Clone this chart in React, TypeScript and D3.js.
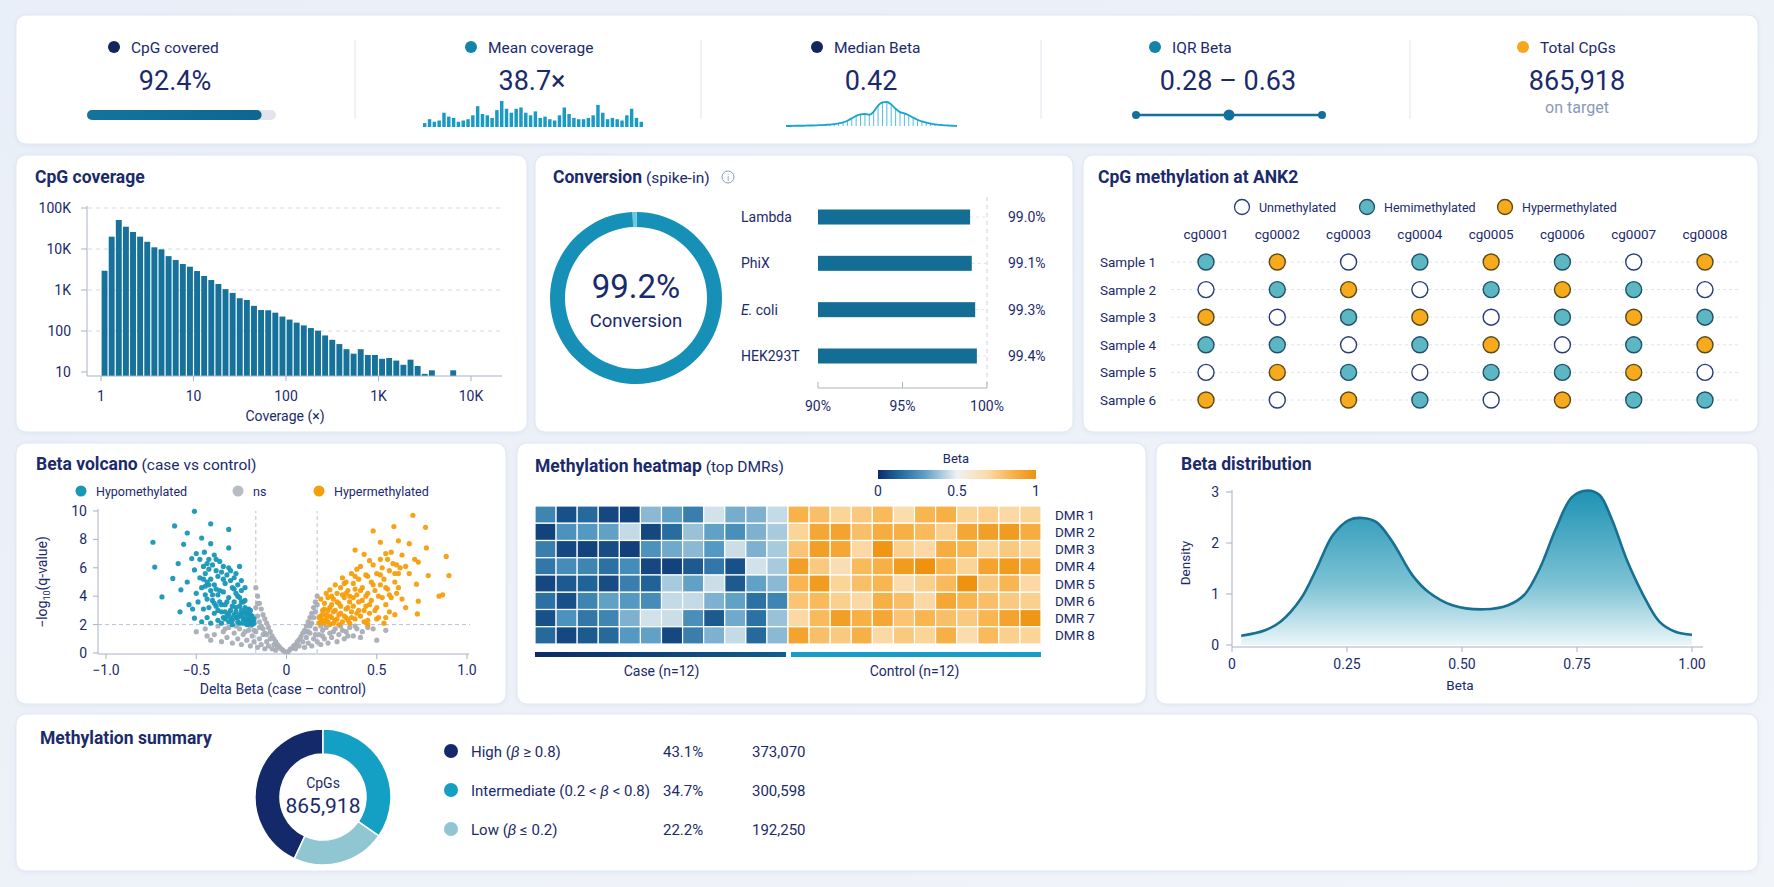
import React, { useEffect, useRef } from "react";
import * as d3 from "d3";

const W = 1774;
const H = 887;
const FONT = "Roboto, 'Noto Sans', 'DejaVu Sans', sans-serif";
const INK = "#1b2a6b";
const SOFT = "#8a98ba";
const AXIS = "#a7b1c8";
const GRID = "#d3dae6";

// KPI strip
const kpiLabels = ["CpG covered", "Mean coverage", "Median Beta", "IQR Beta", "Total CpGs"];
const kpiValues = ["92.4%", "38.7×", "0.42", "0.28 – 0.63", "865,918"];
const kpiDots = ["#13245f", "#1483a8", "#13245f", "#1483a8", "#f5a81c"];
const cpgCoveredPct = 92.4;
const iqrBeta = [0.28, 0.63];
const meanCoverageSpark = [0.15, 0.3, 0.2, 0.25, 0.55, 0.4, 0.35, 0.2, 0.25, 0.3, 0.45, 0.8, 0.5, 0.45, 0.35, 0.65, 1.0, 0.7, 0.55, 0.7, 0.75, 0.55, 0.45, 0.6, 0.35, 0.4, 0.3, 0.25, 0.45, 0.75, 0.5, 0.35, 0.3, 0.3, 0.35, 0.45, 0.85, 0.55, 0.3, 0.35, 0.3, 0.25, 0.45, 0.7, 0.35, 0.2];
const medianBetaSpark = [0, 0, 0.01, 0.01, 0.01, 0.02, 0.02, 0.03, 0.04, 0.05, 0.06, 0.08, 0.11, 0.15, 0.22, 0.32, 0.42, 0.48, 0.5, 0.47, 0.6, 0.85, 0.98, 1.0, 0.9, 0.72, 0.58, 0.53, 0.45, 0.35, 0.26, 0.19, 0.14, 0.1, 0.07, 0.05, 0.03, 0.02, 0.01, 0];

// CpG coverage histogram (13 log bins per decade, starting at 1x)
const BINS_PER_DECADE = 13;
const coverageCounts = [2950, 20000, 51000, 35000, 26000, 20000, 15000, 11000, 9800, 6700, 5400, 4300, 3700, 2900, 2200, 1750, 1400, 1050, 850, 630, 570, 410, 325, 320, 280, 225, 190, 160, 137, 118, 102, 78, 61, 48, 36, 28, 36, 26, 26, 21, 22, 19, 15, 20, 14, 9, 11, 0, 0, 11];
const covXTicks = [1, 10, 100, 1000, 10000];
const covXTickLabels = ["1", "10", "100", "1K", "10K"];
const covYTicks = [10, 100, 1000, 10000, 100000];
const covYTickLabels = ["10", "100", "1K", "10K", "100K"];

// Bisulfite conversion
const overallConversion = 99.2;
const spikeIns = ["Lambda", "PhiX", "E. coli", "HEK293T"];
const spikeInRates = [99.0, 99.1, 99.3, 99.4];
const convTicks = [90, 95, 100];

// CpG states at ANK2: 0 unmethylated, 1 hemimethylated, 2 hypermethylated
const cpgIds = ["cg0001", "cg0002", "cg0003", "cg0004", "cg0005", "cg0006", "cg0007", "cg0008"];
const samples = ["Sample 1", "Sample 2", "Sample 3", "Sample 4", "Sample 5", "Sample 6"];
const stateNames = ["Unmethylated", "Hemimethylated", "Hypermethylated"];
const cpgStates = [
  [1, 2, 0, 1, 2, 1, 0, 2],
  [0, 1, 2, 0, 1, 2, 1, 0],
  [2, 0, 1, 2, 0, 1, 2, 1],
  [1, 1, 0, 1, 2, 0, 1, 2],
  [0, 2, 1, 0, 1, 1, 2, 0],
  [2, 0, 2, 1, 0, 2, 1, 1],
];

// Volcano: [delta beta, -log10 q]
const hypoPoints = [
  [-0.51, 9.98], [-0.62, 8.95], [-0.42, 9.1], [-0.32, 8.7], [-0.55, 8.45], [-0.74, 7.8], [-0.47, 8.1], [-0.57, 7.65], [-0.42, 7.7], [-0.32, 7.4],
  [-0.73, 6.05], [-0.6, 6.3], [-0.69, 3.95], [-0.63, 5.25], [-0.585, 4.45], [-0.55, 5.0], [-0.54, 3.4], [-0.59, 2.9], [-0.51, 2.45], [-0.26, 6.1],
  [-0.23, 4.6], [-0.5, 7.0], [-0.455, 7.1], [-0.4, 6.9], [-0.525, 6.65], [-0.51, 5.85], [-0.44, 6.3], [-0.37, 6.45], [-0.32, 6.0],
  [-0.48, 6.6], [-0.46, 6.1], [-0.45, 5.6], [-0.43, 5.9], [-0.41, 6.2], [-0.39, 5.8], [-0.38, 5.4], [-0.36, 5.7], [-0.35, 5.2], [-0.34, 4.9],
  [-0.33, 5.5], [-0.31, 5.1], [-0.3, 4.6], [-0.29, 5.3], [-0.28, 4.2], [-0.27, 4.8], [-0.26, 3.9], [-0.25, 4.4], [-0.24, 3.6], [-0.23, 3.2],
  [-0.22, 2.8], [-0.21, 2.4], [-0.2, 2.2], [-0.19, 2.6], [-0.18, 2.1], [-0.47, 4.6], [-0.45, 4.1], [-0.44, 5.0], [-0.42, 4.4], [-0.41, 3.7],
  [-0.4, 4.8], [-0.39, 3.3], [-0.38, 4.1], [-0.37, 3.6], [-0.36, 2.9], [-0.35, 4.3], [-0.34, 3.4], [-0.33, 2.6], [-0.32, 3.9], [-0.31, 3.0],
  [-0.3, 2.3], [-0.29, 3.6], [-0.28, 2.9], [-0.27, 2.2], [-0.26, 3.3], [-0.25, 2.6], [-0.24, 2.1], [-0.23, 2.9], [-0.22, 2.3], [-0.21, 3.1],
  [-0.2, 2.7], [-0.19, 2.0], [-0.5, 4.2], [-0.49, 3.6], [-0.46, 3.1], [-0.44, 2.5], [-0.43, 3.2], [-0.4, 2.8], [-0.38, 2.3], [-0.36, 2.1],
  [-0.34, 2.4], [-0.32, 2.2], [-0.3, 2.0], [-0.28, 2.5], [-0.26, 2.1], [-0.24, 2.4], [-0.22, 2.0], [-0.2, 2.3], [-0.48, 5.3], [-0.43, 6.6],
  [-0.39, 6.6], [-0.35, 6.1], [-0.31, 5.8], [-0.28, 5.6], [-0.25, 5.1], [-0.52, 3.1], [-0.47, 2.2], [-0.42, 2.1],
  [-0.21, 2.05], [-0.2, 2.5], [-0.19, 2.3], [-0.18, 2.4], [-0.22, 2.6], [-0.23, 2.4], [-0.24, 2.8], [-0.25, 3.0], [-0.26, 2.7], [-0.27, 2.5],
  [-0.28, 3.2], [-0.29, 2.7], [-0.3, 3.3], [-0.31, 2.5], [-0.32, 2.8], [-0.33, 3.6], [-0.34, 2.9], [-0.35, 2.5], [-0.36, 3.4], [-0.37, 4.4],
  [-0.38, 3.0], [-0.39, 4.5], [-0.4, 3.5], [-0.41, 4.1], [-0.42, 5.2], [-0.43, 4.8], [-0.44, 3.8], [-0.45, 4.7], [-0.46, 5.2], [-0.29, 4.5],
  [-0.27, 4.0], [-0.25, 3.6], [-0.23, 3.7], [-0.21, 2.8], [-0.19, 2.4], [-0.2, 3.0],
];
const nsPoints = [
  [-0.17, 4.6], [-0.16, 4.0], [-0.15, 3.5], [-0.14, 3.1], [-0.13, 2.7], [-0.12, 2.4], [-0.11, 2.1], [-0.1, 1.8], [-0.09, 1.5], [-0.08, 1.2],
  [-0.07, 1.0], [-0.06, 0.8], [-0.05, 0.6], [-0.04, 0.45], [-0.03, 0.3], [-0.02, 0.2], [-0.01, 0.1], [0.01, 0.1], [0.02, 0.25], [0.03, 0.35],
  [0.04, 0.5], [0.05, 0.6], [0.06, 0.8], [0.07, 0.95], [0.08, 1.15], [0.09, 1.4], [0.1, 1.6], [0.11, 1.9], [0.12, 2.2], [0.13, 2.5],
  [0.14, 2.8], [0.15, 3.2], [0.16, 3.6], [0.17, 4.0],
  [-0.5, 1.5], [-0.45, 1.7], [-0.42, 0.9], [-0.4, 1.3], [-0.38, 1.9], [-0.36, 0.8], [-0.35, 1.5], [-0.33, 1.1], [-0.32, 1.8], [-0.3, 0.7],
  [-0.29, 1.4], [-0.27, 1.0], [-0.26, 1.7], [-0.25, 0.6], [-0.24, 1.3], [-0.22, 0.9], [-0.21, 1.6], [-0.2, 0.5], [-0.19, 1.2], [-0.18, 0.8],
  [-0.17, 1.5], [-0.16, 0.4], [-0.15, 1.0], [-0.14, 0.6], [-0.13, 1.3], [-0.12, 0.3], [-0.11, 0.8], [-0.1, 0.5], [-0.09, 1.0], [-0.08, 0.3],
  [-0.07, 0.6], [-0.06, 0.2], [-0.05, 0.4], [-0.16, 2.6], [-0.15, 2.2], [-0.14, 1.9], [-0.17, 3.2], [-0.16, 3.5], [-0.13, 1.7], [-0.12, 1.4],
  [0.05, 0.3], [0.07, 0.5], [0.09, 0.8], [0.1, 0.4], [0.11, 1.1], [0.12, 0.7], [0.13, 1.4], [0.14, 0.5], [0.15, 1.0], [0.16, 1.7],
  [0.17, 0.8], [0.18, 1.3], [0.19, 0.6], [0.2, 1.6], [0.21, 1.0], [0.22, 1.8], [0.23, 0.7], [0.24, 1.4], [0.25, 1.1], [0.27, 1.7],
  [0.28, 0.8], [0.29, 1.3], [0.3, 1.9], [0.32, 1.0], [0.33, 1.5], [0.35, 1.8], [0.37, 1.2], [0.39, 1.7], [0.42, 1.5], [0.45, 1.8],
  [0.5, 0.9], [0.55, 1.6], [0.14, 2.1], [0.15, 2.5], [0.16, 2.9], [0.17, 3.4], [0.13, 1.9], [0.12, 1.5],
  [-0.28, 1.9], [-0.23, 1.5], [-0.2, 1.9], [-0.18, 1.6], [-0.15, 1.8], [-0.11, 1.3], [-0.34, 1.7], [-0.44, 1.2], [0.19, 1.9], [0.26, 1.5],
  [0.31, 1.6], [0.34, 1.2], [0.38, 1.9], [0.41, 1.1], [0.48, 1.7], [0.2, 1.2], [0.16, 1.3], [0.11, 1.5],
];
const hyperPoints = [
  [0.7, 9.7], [0.595, 8.9], [0.77, 8.85], [0.48, 8.6], [0.62, 7.9], [0.52, 7.8], [0.68, 7.7], [0.775, 7.4], [0.885, 6.8], [0.9, 5.45],
  [0.785, 5.45], [0.72, 4.85], [0.73, 3.65], [0.725, 2.75], [0.845, 4.0], [0.865, 4.1], [0.71, 6.6], [0.73, 6.4], [0.38, 7.25], [0.43, 6.95],
  [0.31, 5.3], [0.24, 4.45], [0.58, 7.1], [0.56, 6.6], [0.64, 6.9], [0.66, 6.1], [0.68, 5.6], [0.62, 4.6], [0.6, 2.7], [0.66, 3.2],
  [0.55, 2.5], [0.45, 2.3],
  [0.18, 2.1], [0.19, 2.6], [0.2, 3.0], [0.2, 2.3], [0.21, 3.5], [0.22, 2.7], [0.23, 3.9], [0.23, 2.2], [0.24, 3.2], [0.25, 2.5],
  [0.26, 3.8], [0.26, 2.1], [0.27, 3.0], [0.28, 4.2], [0.28, 2.4], [0.29, 3.5], [0.3, 2.8], [0.3, 4.6], [0.31, 2.2], [0.32, 3.9],
  [0.33, 3.1], [0.33, 2.5], [0.34, 4.4], [0.35, 3.6], [0.35, 2.1], [0.36, 2.9], [0.37, 4.9], [0.37, 3.3], [0.38, 2.4], [0.39, 4.1],
  [0.4, 3.0], [0.4, 5.2], [0.41, 2.6], [0.42, 3.7], [0.42, 4.6], [0.43, 2.2], [0.44, 5.5], [0.44, 3.3], [0.45, 4.2], [0.46, 2.8],
  [0.47, 5.0], [0.47, 3.7], [0.48, 6.2], [0.49, 4.4], [0.5, 3.2], [0.5, 5.6], [0.51, 2.5], [0.52, 4.8], [0.53, 3.9], [0.53, 6.0],
  [0.54, 5.2], [0.55, 3.4], [0.56, 4.5], [0.57, 5.8], [0.58, 3.9], [0.59, 6.3], [0.6, 5.0], [0.61, 4.2], [0.62, 5.6], [0.63, 6.0],
  [0.64, 3.8], [0.46, 6.5], [0.41, 6.1], [0.36, 5.6], [0.32, 4.9], [0.27, 4.8], [0.22, 4.2], [0.19, 3.8], [0.39, 5.9], [0.52, 6.6],
  [0.55, 7.0], [0.34, 2.3], [0.29, 2.0], [0.24, 2.0], [0.45, 2.0], [0.5, 2.4], [0.57, 2.9], [0.54, 2.1],
  [0.18, 2.5], [0.19, 2.2], [0.2, 2.7], [0.21, 2.1], [0.21, 3.1], [0.22, 2.4], [0.23, 3.0], [0.24, 2.6], [0.25, 3.4], [0.26, 2.9],
  [0.27, 2.3], [0.28, 3.6], [0.29, 2.7], [0.3, 3.3], [0.31, 4.1], [0.32, 2.6], [0.33, 4.2], [0.34, 3.2], [0.35, 4.0], [0.36, 2.5],
  [0.37, 3.9], [0.38, 4.5], [0.39, 2.8], [0.4, 3.6], [0.41, 4.4], [0.43, 3.0], [0.44, 4.0], [0.46, 3.4], [0.48, 4.8], [0.49, 3.0],
  [0.51, 4.0], [0.52, 5.5], [0.55, 4.6], [0.57, 4.1], [0.6, 5.6], [0.61, 6.2], [0.45, 5.4], [0.38, 5.4], [0.33, 5.0], [0.25, 4.0],
];
const volcanoQThreshold = 2;
const volcanoDeltaThreshold = 0.17;
const volcanoXTicks = [-1, -0.5, 0, 0.5, 1];
const volcanoXTickLabels = ["−1.0", "−0.5", "0", "0.5", "1.0"];
const volcanoYTicks = [0, 2, 4, 6, 8, 10];

// Heatmap of top DMRs (beta per sample)
const dmrs = ["DMR 1", "DMR 2", "DMR 3", "DMR 4", "DMR 5", "DMR 6", "DMR 7", "DMR 8"];
const caseBeta = [
  [0.22, 0.08, 0.14, 0.06, 0.05, 0.36, 0.3, 0.2, 0.46, 0.33, 0.34, 0.44],
  [0.05, 0.26, 0.28, 0.3, 0.44, 0.06, 0.15, 0.38, 0.3, 0.25, 0.34, 0.4],
  [0.2, 0.06, 0.05, 0.07, 0.04, 0.26, 0.32, 0.36, 0.28, 0.45, 0.34, 0.4],
  [0.18, 0.24, 0.22, 0.16, 0.24, 0.06, 0.05, 0.1, 0.18, 0.08, 0.46, 0.4],
  [0.06, 0.1, 0.12, 0.07, 0.2, 0.12, 0.4, 0.3, 0.45, 0.1, 0.3, 0.36],
  [0.16, 0.08, 0.22, 0.3, 0.28, 0.24, 0.44, 0.44, 0.34, 0.3, 0.16, 0.22],
  [0.08, 0.26, 0.18, 0.22, 0.34, 0.46, 0.45, 0.25, 0.1, 0.32, 0.16, 0.38],
  [0.14, 0.06, 0.1, 0.14, 0.28, 0.3, 0.06, 0.2, 0.34, 0.44, 0.14, 0.36],
];
const controlBeta = [
  [0.85, 0.8, 0.72, 0.76, 0.82, 0.68, 0.84, 0.86, 0.72, 0.74, 0.7, 0.72],
  [0.72, 0.9, 0.92, 0.8, 0.88, 0.86, 0.82, 0.74, 0.9, 0.94, 0.96, 0.88],
  [0.78, 0.94, 0.9, 0.7, 0.98, 0.74, 0.7, 0.88, 0.84, 0.72, 0.76, 0.72],
  [0.94, 0.76, 0.66, 0.82, 0.86, 0.96, 1.0, 0.84, 0.72, 0.92, 0.96, 0.9],
  [0.84, 0.96, 0.72, 0.8, 0.84, 0.68, 0.74, 0.82, 1.0, 0.76, 0.84, 0.7],
  [0.78, 0.82, 0.74, 0.7, 0.86, 0.8, 0.7, 0.9, 0.84, 0.8, 0.76, 0.74],
  [0.7, 0.82, 0.94, 0.86, 0.9, 0.78, 0.84, 0.8, 0.76, 0.84, 0.92, 0.98],
  [0.92, 0.8, 0.76, 0.86, 0.7, 0.76, 0.72, 0.86, 0.68, 0.82, 0.74, 0.72],
];
const betaLegendTicks = [0, 0.5, 1];

// Beta density
const densityX = [0.02, 0.072, 0.106, 0.15, 0.184, 0.219, 0.254, 0.284, 0.314, 0.349, 0.392, 0.427, 0.479, 0.548, 0.6, 0.635, 0.669, 0.704, 0.739, 0.773, 0.799, 0.825, 0.86, 0.894, 0.929, 0.964, 1.0];
const densityY = [0.18, 0.29, 0.46, 0.91, 1.5, 2.15, 2.45, 2.49, 2.41, 2.02, 1.37, 1.04, 0.78, 0.7, 0.78, 0.98, 1.5, 2.28, 2.9, 3.03, 2.94, 2.48, 1.63, 0.98, 0.46, 0.26, 0.2];
const distXTicks = [0, 0.25, 0.5, 0.75, 1];
const distXTickLabels = ["0", "0.25", "0.50", "0.75", "1.00"];
const distYTicks = [0, 1, 2, 3];

// Methylation summary
const summaryNames = ["High", "Intermediate", "Low"];
const summaryRanges = [["(", "β", " ≥ 0.8)"], ["(0.2 < ", "β", " < 0.8)"], ["(", "β", " ≤ 0.2)"]];
const summaryCounts = [373070, 300598, 192250];
const summaryColors = ["#13296a", "#149fc4", "#8fc6d1"];

type Sel = d3.Selection<any, any, any, any>;

function addText(g: Sel, x: number, y: number, s: string, size: number, opt: any = {}) {
  return g
    .append("text")
    .attr("x", x)
    .attr("y", y)
    .attr("font-size", size)
    .attr("fill", opt.fill || INK)
    .attr("font-weight", opt.weight || 400)
    .attr("text-anchor", opt.anchor || "start")
    .text(s);
}

function addTitle(g: Sel, x: number, y: number, bold: string, rest?: string) {
  const t = g.append("text").attr("x", x).attr("y", y).attr("fill", INK);
  t.append("tspan").attr("font-size", 17.5).attr("font-weight", 700).text(bold);
  if (rest) t.append("tspan").attr("font-size", 15.5).attr("font-weight", 400).text(" " + rest);
  return t;
}

const App = () => {
  const ref = useRef<SVGSVGElement>(null);

  useEffect(() => {
    if (!ref.current) return;
    const svg = d3.select(ref.current);
    svg.selectAll("*").remove();

    const defs = svg.append("defs");
    const shadow = defs.append("filter").attr("id", "cardShadow").attr("x", "-5%").attr("y", "-5%").attr("width", "110%").attr("height", "115%");
    shadow.append("feDropShadow").attr("dx", 0).attr("dy", 1).attr("stdDeviation", 2).attr("flood-color", "#8fa2c4").attr("flood-opacity", 0.14);

    const bg = defs.append("linearGradient").attr("id", "pageBg").attr("x1", 0).attr("y1", 0).attr("x2", 1).attr("y2", 1);
    bg.append("stop").attr("offset", "0%").attr("stop-color", "#e9eff8");
    bg.append("stop").attr("offset", "100%").attr("stop-color", "#f1f4f9");

    const root = svg.append("g").style("font-family", FONT);
    root.append("rect").attr("width", W).attr("height", H).attr("fill", "url(#pageBg)");

    const card = (x: number, y: number, w: number, h: number) =>
      root.append("rect").attr("x", x).attr("y", y).attr("width", w).attr("height", h).attr("rx", 10)
        .attr("fill", "#fff").attr("stroke", "#e1e7f0").attr("stroke-width", 1).attr("filter", "url(#cardShadow)");

    // ---------- KPI strip ----------
    card(16, 15, 1742, 129);
    const kpi = root.append("g");
    const kpiCenters = [175, 532, 871, 1228, 1577];
    const kpiLabelX = [131, 488, 834, 1172, 1540];
    [355, 701, 1041, 1410].forEach((x) =>
      kpi.append("line").attr("x1", x).attr("x2", x).attr("y1", 40).attr("y2", 119).attr("stroke", "#dfe4ee"));
    kpiLabels.forEach((lab, i) => {
      kpi.append("circle").attr("cx", kpiLabelX[i] - 17).attr("cy", 47).attr("r", 6).attr("fill", kpiDots[i]);
      addText(kpi, kpiLabelX[i], 52.5, lab, 15.5);
      addText(kpi, kpiCenters[i], 90, kpiValues[i], 27, { anchor: "middle" });
    });

    // coverage progress
    const prog = d3.scaleLinear().domain([0, 100]).range([87, 276]);
    kpi.append("rect").attr("x", 87).attr("y", 110).attr("width", 189).attr("height", 10).attr("rx", 5).attr("fill", "#e2e5eb");
    const pg = defs.append("linearGradient").attr("id", "progFill");
    pg.append("stop").attr("offset", "0%").attr("stop-color", "#13749c");
    pg.append("stop").attr("offset", "100%").attr("stop-color", "#0f6690");
    kpi.append("rect").attr("x", 87).attr("y", 110).attr("width", prog(cpgCoveredPct) - 87).attr("height", 10).attr("rx", 5).attr("fill", "url(#progFill)");

    // mean coverage sparkline
    const sx = d3.scaleBand<number>().domain(d3.range(meanCoverageSpark.length)).range([423, 643]).paddingInner(0.28);
    const sh = d3.scaleLinear().domain([0, 1]).range([0, 26]);
    kpi.selectAll(".spark").data(meanCoverageSpark).enter().append("rect")
      .attr("x", (_d, i) => sx(i)!).attr("y", (d) => 127 - sh(d)).attr("width", sx.bandwidth()).attr("height", (d) => sh(d))
      .attr("fill", "#1a9bc6");

    // median beta sparkline
    const mx = d3.scalePoint<number>().domain(d3.range(medianBetaSpark.length)).range([786, 957]);
    const my = d3.scaleLinear().domain([0, 1]).range([126, 102]);
    medianBetaSpark.forEach((d, i) => {
      if (d < 0.03) return;
      kpi.append("line").attr("x1", mx(i)!).attr("x2", mx(i)!).attr("y1", my(d)).attr("y2", 126)
        .attr("stroke", "#3eb3db").attr("stroke-width", 0.9);
    });
    kpi.append("path").datum(medianBetaSpark)
      .attr("d", d3.line<number>().x((_d, i) => mx(i)!).y((d) => my(d)).curve(d3.curveMonotoneX))
      .attr("fill", "none").attr("stroke", "#1aa3d0").attr("stroke-width", 1.8);

    // IQR range
    const rx = d3.scaleLinear().domain(iqrBeta).range([1136, 1322]);
    kpi.append("line").attr("x1", rx(iqrBeta[0])).attr("x2", rx(iqrBeta[1])).attr("y1", 115).attr("y2", 115).attr("stroke", "#13709a").attr("stroke-width", 2.5);
    kpi.append("circle").attr("cx", rx(iqrBeta[0])).attr("cy", 115).attr("r", 4).attr("fill", "#13709a");
    kpi.append("circle").attr("cx", rx(iqrBeta[1])).attr("cy", 115).attr("r", 4).attr("fill", "#13709a");
    kpi.append("circle").attr("cx", rx(d3.mean(iqrBeta)!)).attr("cy", 115).attr("r", 5.5).attr("fill", "#13709a");

    addText(kpi, 1577, 113, "on target", 16, { anchor: "middle", fill: SOFT });

    // ---------- CpG coverage ----------
    card(16, 155, 511, 277);
    const cov = root.append("g");
    addTitle(cov, 35, 183, "CpG coverage");
    const cx = d3.scaleLog().domain([1, 10000]).range([101, 471]);
    const cy = d3.scaleLog().domain([10, 100000]).range([372, 208]);
    const covBase = 376;
    covYTicks.forEach((t, i) => {
      if (t > 10) cov.append("line").attr("x1", 88).attr("x2", 502).attr("y1", cy(t)).attr("y2", cy(t)).attr("stroke", GRID).attr("stroke-dasharray", "4,4");
      cov.append("line").attr("x1", 81).attr("x2", 87).attr("y1", cy(t)).attr("y2", cy(t)).attr("stroke", AXIS);
      addText(cov, 71, cy(t) + 5, covYTickLabels[i], 14, { anchor: "end" });
    });
    coverageCounts.forEach((v, i) => {
      if (!v) return;
      const x0 = cx(Math.pow(10, i / BINS_PER_DECADE));
      const x1 = cx(Math.pow(10, (i + 1) / BINS_PER_DECADE));
      cov.append("rect").attr("x", x0 + 0.6).attr("width", x1 - x0 - 1.2).attr("y", cy(v)).attr("height", covBase - cy(v)).attr("fill", "#16729a");
    });
    cov.append("line").attr("x1", 87).attr("x2", 87).attr("y1", 206).attr("y2", covBase).attr("stroke", AXIS);
    cov.append("line").attr("x1", 87).attr("x2", 502).attr("y1", covBase).attr("y2", covBase).attr("stroke", AXIS);
    covXTicks.forEach((t, i) => {
      cov.append("line").attr("x1", cx(t)).attr("x2", cx(t)).attr("y1", covBase).attr("y2", covBase + 5).attr("stroke", AXIS);
      addText(cov, cx(t), 401, covXTickLabels[i], 14, { anchor: "middle" });
    });
    addText(cov, 285, 421, "Coverage (×)", 14, { anchor: "middle" });

    // ---------- Conversion ----------
    card(535, 155, 538, 277);
    const conv = root.append("g");
    addTitle(conv, 553, 183, "Conversion", "(spike-in)");
    conv.append("circle").attr("cx", 728).attr("cy", 177).attr("r", 6).attr("fill", "none").attr("stroke", "#8d9bc0").attr("stroke-width", 1);
    addText(conv, 728, 181, "i", 9, { anchor: "middle", fill: "#8d9bc0" });

    const ring = d3.arc<any>().innerRadius(71).outerRadius(86);
    const ringG = conv.append("g").attr("transform", "translate(636,298)");
    const convAngle = (overallConversion / 100) * 2 * Math.PI;
    ringG.append("path").attr("d", ring({ startAngle: 0.01, endAngle: convAngle + 0.01 })).attr("fill", "#1790b7");
    ringG.append("path").attr("d", ring({ startAngle: convAngle + 0.01, endAngle: 2 * Math.PI + 0.01 })).attr("fill", "#6fc7de");
    addText(conv, 636, 298, d3.format(".1f")(overallConversion) + "%", 33, { anchor: "middle" });
    addText(conv, 636, 327, "Conversion", 18.5, { anchor: "middle" });

    const bx = d3.scaleLinear().domain([90, 100]).range([818, 987]);
    const by = d3.scalePoint<string>().domain(spikeIns).range([217, 356]);
    conv.append("line").attr("x1", bx(100)).attr("x2", bx(100)).attr("y1", 197).attr("y2", 388).attr("stroke", "#c9d1df").attr("stroke-dasharray", "4,4");
    spikeIns.forEach((name, i) => {
      const y = by(name)!;
      const lt = conv.append("text").attr("x", 741).attr("y", y + 5).attr("font-size", 14).attr("fill", INK);
      if (name.startsWith("E.")) {
        lt.append("tspan").attr("font-style", "italic").text("E.");
        lt.append("tspan").text(name.slice(2));
      } else lt.text(name);
      conv.append("line").attr("x1", bx(spikeInRates[i])).attr("x2", bx(100)).attr("y1", y).attr("y2", y).attr("stroke", "#dde3ec").attr("stroke-dasharray", "3,3");
      conv.append("rect").attr("x", bx(90)).attr("y", y - 7.5).attr("width", bx(spikeInRates[i]) - bx(90)).attr("height", 15).attr("fill", "#136d95");
      addText(conv, 1008, y + 5, d3.format(".1f")(spikeInRates[i]) + "%", 14);
    });
    conv.append("line").attr("x1", bx(90)).attr("x2", bx(100)).attr("y1", 388).attr("y2", 388).attr("stroke", AXIS);
    convTicks.forEach((t) => {
      conv.append("line").attr("x1", bx(t)).attr("x2", bx(t)).attr("y1", 382).attr("y2", 388).attr("stroke", AXIS);
      addText(conv, bx(t), 411, t + "%", 14, { anchor: "middle" });
    });

    // ---------- CpG methylation grid ----------
    card(1083, 155, 675, 277);
    const grid = root.append("g");
    addTitle(grid, 1098, 183, "CpG methylation at ANK2");
    const stateFill = ["#ffffff", "#5db7c3", "#f6aa1c"];
    const stateStroke = ["#2a3b7a", "#1e506c", "#5a4a1a"];
    const legendX = [1242, 1367, 1505];
    stateNames.forEach((s, i) => {
      grid.append("circle").attr("cx", legendX[i]).attr("cy", 207).attr("r", 7.5).attr("fill", stateFill[i]).attr("stroke", stateStroke[i]).attr("stroke-width", 1.3);
      addText(grid, legendX[i] + 17, 211.5, s, 12.5);
    });
    const gx = d3.scalePoint<string>().domain(cpgIds).range([1206, 1705]);
    const gy = d3.scalePoint<string>().domain(samples).range([262, 400]);
    cpgIds.forEach((c) => addText(grid, gx(c)!, 239, c, 13.5, { anchor: "middle" }));
    samples.forEach((s, r) => {
      const y = gy(s)!;
      addText(grid, 1100, y + 5, s, 13.5);
      grid.append("line").attr("x1", 1171).attr("x2", 1739).attr("y1", y).attr("y2", y).attr("stroke", "#dfe4ec").attr("stroke-dasharray", "3,3");
      cpgStates[r].forEach((st, c) => {
        grid.append("circle").attr("cx", gx(cpgIds[c])!).attr("cy", y).attr("r", 8)
          .attr("fill", stateFill[st]).attr("stroke", stateStroke[st]).attr("stroke-width", 1.4);
      });
    });

    // ---------- Volcano ----------
    card(16, 443, 490, 261);
    const vol = root.append("g");
    addTitle(vol, 36, 470, "Beta volcano", "(case vs control)");
    const vx = d3.scaleLinear().domain([-1, 1]).range([106, 467]);
    const vy = d3.scaleLinear().domain([0, 10]).range([653, 511]);
    const volLegend = [["Hypomethylated", "#1897b7", 81], ["ns", "#b9bcc3", 238], ["Hypermethylated", "#f59f0a", 319]];
    volLegend.forEach(([name, col, x]) => {
      vol.append("circle").attr("cx", x as number).attr("cy", 491).attr("r", 5.5).attr("fill", col as string);
      addText(vol, (x as number) + 15, 495.5, name as string, 12.5);
    });
    vol.append("line").attr("x1", 98).attr("x2", 98).attr("y1", 509).attr("y2", 654).attr("stroke", AXIS);
    vol.append("line").attr("x1", 98).attr("x2", 469).attr("y1", 654).attr("y2", 654).attr("stroke", AXIS);
    volcanoYTicks.forEach((t) => {
      vol.append("line").attr("x1", 93).attr("x2", 98).attr("y1", vy(t)).attr("y2", vy(t)).attr("stroke", AXIS);
      addText(vol, 87, vy(t) + 5, String(t), 14, { anchor: "end" });
    });
    volcanoXTicks.forEach((t, i) => {
      vol.append("line").attr("x1", vx(t)).attr("x2", vx(t)).attr("y1", 654).attr("y2", 659).attr("stroke", AXIS);
      addText(vol, vx(t), 675, volcanoXTickLabels[i], 14, { anchor: "middle" });
    });
    addText(vol, 283, 694, "Delta Beta (case – control)", 14, { anchor: "middle" });
    const yt = vol.append("text").attr("transform", "translate(47,582) rotate(-90)").attr("text-anchor", "middle").attr("font-size", 14).attr("fill", INK);
    yt.append("tspan").text("−log");
    yt.append("tspan").attr("font-size", 9).attr("dy", 3).text("10");
    yt.append("tspan").attr("dy", -3).text("(q-value)");

    vol.append("line").attr("x1", 98).attr("x2", 470).attr("y1", vy(volcanoQThreshold)).attr("y2", vy(volcanoQThreshold)).attr("stroke", "#b8c1d3").attr("stroke-dasharray", "4,3");
    [-volcanoDeltaThreshold, volcanoDeltaThreshold].forEach((t) =>
      vol.append("line").attr("x1", vx(t)).attr("x2", vx(t)).attr("y1", vy(0)).attr("y2", vy(10)).attr("stroke", "#b8c1d3").attr("stroke-dasharray", "4,3"));
    const dots = (pts: number[][], col: string) =>
      pts.forEach(([x, y]) => vol.append("circle").attr("cx", vx(x)).attr("cy", vy(y)).attr("r", 2.6).attr("fill", col).attr("fill-opacity", 0.95));
    dots(nsPoints, "#a9adb6");
    dots(hypoPoints, "#1797b8");
    dots(hyperPoints, "#f59e0b");

    // ---------- Heatmap ----------
    card(517, 443, 629, 261);
    const hm = root.append("g");
    addTitle(hm, 535, 472, "Methylation heatmap", "(top DMRs)");
    const betaColor = d3.scaleLinear<string>()
      .domain([0, 0.12, 0.28, 0.5, 0.7, 0.85, 1])
      .range(["#0b2c6a", "#1f6398", "#5399c2", "#eef2f3", "#fcd9a4", "#f8b24a", "#ee920f"]);
    const lg = defs.append("linearGradient").attr("id", "betaLegend");
    d3.range(0, 1.001, 0.1).forEach((t) => lg.append("stop").attr("offset", `${t * 100}%`).attr("stop-color", betaColor(t)));
    addText(hm, 956, 463, "Beta", 13, { anchor: "middle" });
    const lx = d3.scaleLinear().domain([0, 1]).range([878, 1036]);
    hm.append("rect").attr("x", lx(0)).attr("y", 470).attr("width", lx(1) - lx(0)).attr("height", 9).attr("fill", "url(#betaLegend)");
    betaLegendTicks.forEach((t) => addText(hm, lx(t), 496, String(t), 14, { anchor: "middle" }));

    const samplesAll = d3.range(24);
    const hx = d3.scaleBand<number>().domain(samplesAll).range([535, 1041]);
    const hy = d3.scaleBand<string>().domain(dmrs).range([506, 644]);
    dmrs.forEach((d, r) => {
      const row = caseBeta[r].concat(controlBeta[r]);
      row.forEach((v, c) => {
        hm.append("rect").attr("x", hx(c)!).attr("y", hy(d)!).attr("width", hx.bandwidth()).attr("height", hy.bandwidth())
          .attr("fill", betaColor(v)).attr("stroke", "#fff").attr("stroke-width", 1.2);
      });
      addText(hm, 1055, hy(d)! + hy.bandwidth() / 2 + 5, d, 13.5);
    });
    const cg = defs.append("linearGradient").attr("id", "caseBar");
    cg.append("stop").attr("offset", "0%").attr("stop-color", "#0c2a68");
    cg.append("stop").attr("offset", "100%").attr("stop-color", "#0f5f8e");
    const caseEnd = hx(11)! + hx.bandwidth();
    hm.append("rect").attr("x", 535).attr("y", 652).attr("width", caseEnd - 2 - 535).attr("height", 5).attr("fill", "url(#caseBar)");
    hm.append("rect").attr("x", caseEnd + 3).attr("y", 652).attr("width", 1041 - caseEnd - 3).attr("height", 5).attr("fill", "#1a9cc8");
    addText(hm, (535 + caseEnd) / 2, 676, "Case (n=12)", 14, { anchor: "middle" });
    addText(hm, (caseEnd + 1041) / 2, 676, "Control (n=12)", 14, { anchor: "middle" });

    // ---------- Beta distribution ----------
    card(1156, 443, 602, 261);
    const dist = root.append("g");
    addTitle(dist, 1181, 470, "Beta distribution");
    const dx = d3.scaleLinear().domain([0, 1]).range([1232, 1692]);
    const dy = d3.scaleLinear().domain([0, 3]).range([645, 492]);
    const ag = defs.append("linearGradient").attr("id", "densFill").attr("gradientUnits", "userSpaceOnUse").attr("x1", 0).attr("x2", 0).attr("y1", dy(3)).attr("y2", dy(0));
    ag.append("stop").attr("offset", "0%").attr("stop-color", "#1f93b4");
    ag.append("stop").attr("offset", "60%").attr("stop-color", "#7cc2d4");
    ag.append("stop").attr("offset", "100%").attr("stop-color", "#eaf6f9");
    const pts = densityX.map((x, i) => [x, densityY[i]]);
    dist.append("path").datum(pts)
      .attr("d", d3.area<number[]>().x((d) => dx(d[0])).y0(dy(0)).y1((d) => dy(d[1])).curve(d3.curveCatmullRom))
      .attr("fill", "url(#densFill)");
    dist.append("path").datum(pts)
      .attr("d", d3.line<number[]>().x((d) => dx(d[0])).y((d) => dy(d[1])).curve(d3.curveCatmullRom))
      .attr("fill", "none").attr("stroke", "#176f93").attr("stroke-width", 2.6);
    dist.append("line").attr("x1", 1232).attr("x2", 1232).attr("y1", 490).attr("y2", 647).attr("stroke", AXIS);
    dist.append("line").attr("x1", 1232).attr("x2", 1703).attr("y1", 647).attr("y2", 647).attr("stroke", AXIS);
    distYTicks.forEach((t) => {
      dist.append("line").attr("x1", 1226).attr("x2", 1232).attr("y1", dy(t)).attr("y2", dy(t)).attr("stroke", AXIS);
      addText(dist, 1219, dy(t) + 5, String(t), 14, { anchor: "end" });
    });
    distXTicks.forEach((t, i) => {
      dist.append("line").attr("x1", dx(t)).attr("x2", dx(t)).attr("y1", 647).attr("y2", 652).attr("stroke", AXIS);
      addText(dist, dx(t), 669, distXTickLabels[i], 14, { anchor: "middle" });
    });
    addText(dist, 1460, 690, "Beta", 13.5, { anchor: "middle" });
    dist.append("text").attr("transform", "translate(1190,563) rotate(-90)").attr("text-anchor", "middle").attr("font-size", 13.5).attr("fill", INK).text("Density");

    // ---------- Methylation summary ----------
    card(16, 714, 1742, 157);
    const sum = root.append("g");
    addTitle(sum, 40, 744, "Methylation summary");
    const total = d3.sum(summaryCounts);
    const highFrac = summaryCounts[0] / total;
    const pie = d3.pie<number>().sort(null).startAngle(-highFrac * 2 * Math.PI).endAngle((1 - highFrac) * 2 * Math.PI);
    const sArc = d3.arc<d3.PieArcDatum<number>>().innerRadius(43).outerRadius(68);
    const sg = sum.append("g").attr("transform", "translate(323,797)");
    pie(summaryCounts).forEach((a, i) =>
      sg.append("path").attr("d", sArc(a)!).attr("fill", summaryColors[i]).attr("stroke", "#fff").attr("stroke-width", 1.5));
    addText(sum, 323, 788, "CpGs", 14, { anchor: "middle" });
    addText(sum, 323, 813, d3.format(",")(total), 21, { anchor: "middle" });
    const rowY = [751, 790, 829];
    summaryNames.forEach((n, i) => {
      const y = rowY[i];
      sum.append("circle").attr("cx", 451).attr("cy", y).attr("r", 7).attr("fill", summaryColors[i]);
      const t = sum.append("text").attr("x", 471).attr("y", y + 5.5).attr("font-size", 15).attr("fill", INK);
      t.append("tspan").text(n + " " + summaryRanges[i][0]);
      t.append("tspan").attr("font-style", "italic").text(summaryRanges[i][1]);
      t.append("tspan").text(summaryRanges[i][2]);
      addText(sum, 663, y + 5.5, d3.format(".1%")(summaryCounts[i] / total), 15);
      addText(sum, 752, y + 5.5, d3.format(",")(summaryCounts[i]), 15);
    });
  }, []);

  return (
    <svg
      ref={ref}
      width={W}
      height={H}
      style={{ position: "absolute", left: 0, top: 0, display: "block" }}
    />
  );
};

export default App;
